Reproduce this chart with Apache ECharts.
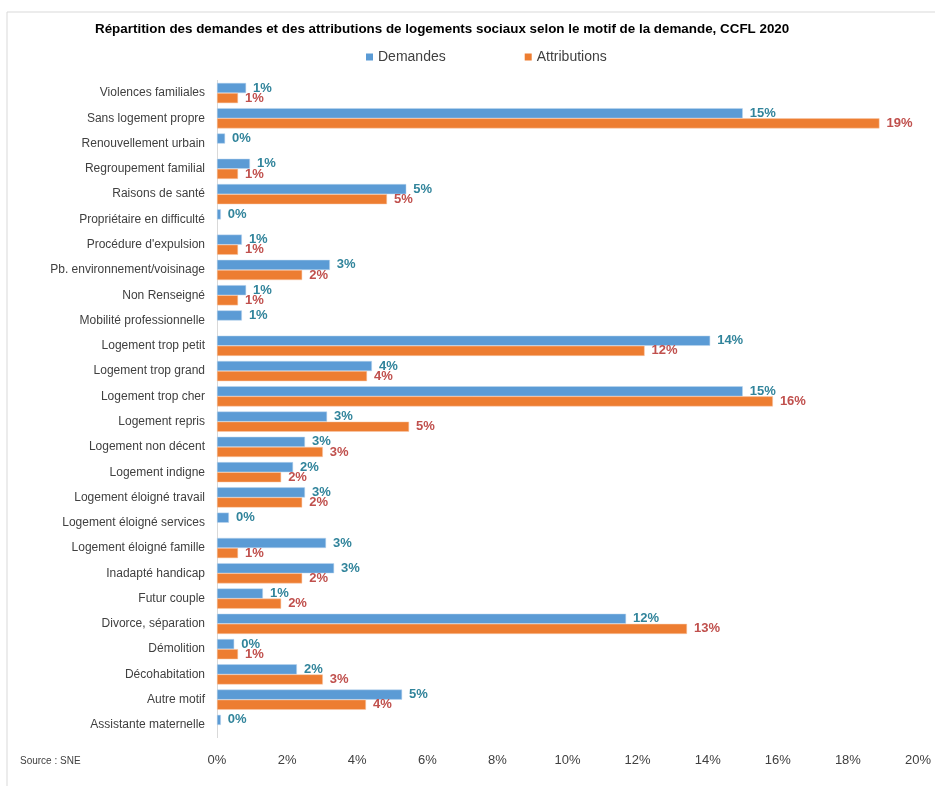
<!DOCTYPE html>
<html><head><meta charset="utf-8">
<script src="https://cdn.jsdelivr.net/npm/echarts@6/dist/echarts.min.js"></script>
<style>html,body{margin:0;padding:0;background:#fff}#c{width:935px;height:786px}</style>
</head><body><div id="c"></div>
<script>
const categories = ["Violences familiales","Sans logement propre","Renouvellement urbain","Regroupement familial","Raisons de santé","Propriétaire en difficulté","Procédure d'expulsion","Pb. environnement/voisinage","Non Renseigné","Mobilité professionnelle","Logement trop petit","Logement trop grand","Logement trop cher","Logement repris","Logement non décent","Logement indigne","Logement éloigné travail","Logement éloigné services","Logement éloigné famille","Inadapté handicap","Futur couple","Divorce, séparation","Démolition","Décohabitation","Autre motif","Assistante maternelle"];
const demandes = [0.83,15.0,0.23,0.94,5.4,0.11,0.71,3.22,0.83,0.71,14.07,4.42,15.0,3.14,2.51,2.17,2.51,0.34,3.11,3.34,1.31,11.67,0.49,2.28,5.28,0.11];
const attributions = [0.6,18.9,null,0.6,4.85,null,0.6,2.43,0.6,null,12.2,4.28,15.86,5.48,3.02,1.83,2.43,null,0.6,2.43,1.83,13.41,0.6,3.02,4.25,null];
const xTicks = {min:0, max:20, interval:2};

const chart = echarts.init(document.getElementById('c'));
const FONT = 'Liberation Sans';
chart.setOption({
  animation:false,
  textStyle:{fontFamily:FONT},
  title:{text:'Répartition des demandes et des attributions de logements sociaux selon le motif de la demande, CCFL 2020',
    left:90, top:18, textStyle:{fontSize:13.4, fontWeight:'bold', color:'#000', fontFamily:FONT}},
  legend:{top:45, left:361, itemWidth:7, itemHeight:7, itemGap:79, icon:'rect',
    itemStyle:{borderWidth:0},
    textStyle:{fontSize:14, color:'#404040'}, data:['Demandes','Attributions']},
  grid:{left:217, right:17, top:80.4, bottom:48.4, containLabel:false},
  xAxis:{type:'value', min:xTicks.min, max:xTicks.max, interval:xTicks.interval,
    axisLine:{show:false}, axisTick:{show:false}, splitLine:{show:false},
    axisLabel:{formatter:'{value}%', fontSize:13, color:'#404040', margin:16}},
  yAxis:{type:'category', data:categories, inverse:true,
    axisLine:{lineStyle:{color:'#d9d9d9'}}, axisTick:{show:false},
    axisLabel:{fontSize:12, color:'#404040', margin:12}},
  graphic:[
    {type:'line', shape:{x1:7,y1:12,x2:935,y2:12}, style:{stroke:'#d9d9d9', lineWidth:1}},
    {type:'line', shape:{x1:7,y1:12,x2:7,y2:786}, style:{stroke:'#d9d9d9', lineWidth:1}},
    {type:'text', left:20, top:756, style:{text:'Source : SNE', fontSize:10, fill:'#404040', fontFamily:FONT}}
  ],
  series:[
    {name:'Demandes', type:'bar', data:demandes, barGap:'0%', barCategoryGap:'20%',
      itemStyle:{color:'#5B9BD5', borderColor:'#BDD7EE', borderWidth:0.5},
      label:{show:true, position:'right', distance:7, fontSize:13, fontWeight:'bold', color:'#31849B',
        formatter:p=>p.value==null?'':Math.round(p.value)+'%'}},
    {name:'Attributions', type:'bar', data:attributions,
      itemStyle:{color:'#ED7D31', borderColor:'#F8CBAD', borderWidth:0.5},
      label:{show:true, position:'right', distance:7, fontSize:13, fontWeight:'bold', color:'#C0504D',
        formatter:p=>p.value==null?'':Math.round(p.value)+'%'}}
  ]
});
</script></body></html>
